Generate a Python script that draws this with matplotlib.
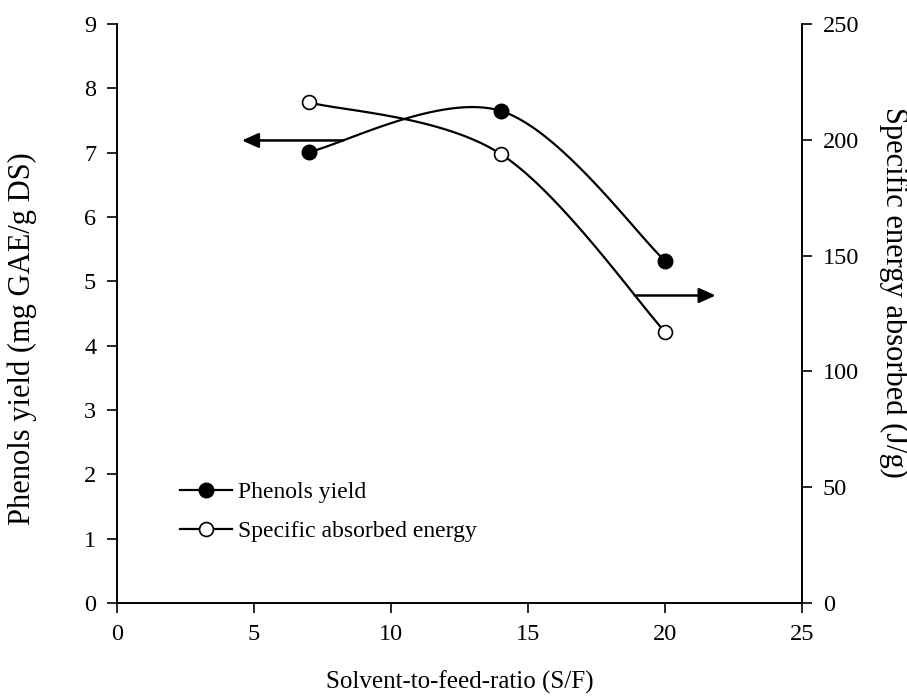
import numpy as np
import matplotlib
matplotlib.use("Agg")
import matplotlib.pyplot as plt
from matplotlib.lines import Line2D

plt.rcParams['font.family'] = ['Liberation Serif', 'DejaVu Serif']

# Data
sf_ratio = [7, 14, 20]
phenols_yield = [7.01, 7.65, 5.32]
specific_energy = [216.2, 193.9, 117.1]

x_ticks = [0, 5, 10, 15, 20, 25]
left_ticks = [0, 1, 2, 3, 4, 5, 6, 7, 8, 9]
right_ticks = [0, 50, 100, 150, 200, 250]

left_arrow = {"start": (8.25, 7.19), "end": (4.56, 7.19)}
right_arrow = {"start": (18.9, 4.78), "end": (21.85, 4.78)}

series_labels = ["Phenols yield", "Specific absorbed energy"]


def excel_smooth(xs, ys, n=60):
    xs = np.asarray(xs, float)
    ys = np.asarray(ys, float)
    pts = np.column_stack([xs, ys])
    out = []
    m = len(pts)
    for i in range(m - 1):
        p0 = pts[i - 1] if i > 0 else pts[i]
        p1 = pts[i]
        p2 = pts[i + 1]
        p3 = pts[i + 2] if i + 2 < m else pts[i + 1]
        c1 = p1 + (p2 - p0) / 6.0
        c2 = p2 - (p3 - p1) / 6.0
        t = np.linspace(0, 1, n)[:, None]
        seg = ((1 - t) ** 3) * p1 + 3 * ((1 - t) ** 2) * t * c1 + 3 * (1 - t) * t ** 2 * c2 + t ** 3 * p2
        out.append(seg if i == 0 else seg[1:])
    arr = np.vstack(out)
    return arr[:, 0], arr[:, 1]


fig = plt.figure(figsize=(9.07, 6.97), dpi=100)
ax = fig.add_axes([117 / 907, 1 - 603 / 697, (802 - 117) / 907, (603 - 24) / 697])
ax2 = ax.twinx()

lw = 1.6
# Phenols yield (left axis)
sx, sy = excel_smooth(sf_ratio, phenols_yield)
ax.plot(sx, sy, color='black', lw=lw, zorder=2)
ax.plot(sf_ratio, phenols_yield, 'o', color='black', ms=10.5, zorder=3)

# Specific energy (right axis)
ex, ey = excel_smooth(sf_ratio, specific_energy)
ax2.plot(ex, ey, color='black', lw=lw, zorder=2)
ax2.plot(sf_ratio, specific_energy, 'o', mfc='white', mec='black', mew=1.2, ms=10, zorder=3)

ax.set_xlim(0, 25)
ax.set_ylim(0, 9)
ax2.set_ylim(0, 250)
ax.set_xticks(x_ticks)
ax.set_yticks(left_ticks)
ax2.set_yticks(right_ticks)

for a in (ax, ax2):
    for s in a.spines.values():
        s.set_linewidth(1.2)
    a.tick_params(direction='out', length=7, width=1.2, labelsize=17.5, pad=8)
ax.spines['top'].set_visible(False)
ax2.spines['top'].set_visible(False)

ax.set_xlabel("Solvent-to-feed-ratio (S/F)", fontsize=18)
ax.xaxis.set_label_coords(0.5, -0.116)
ax.set_ylabel("Phenols yield (mg GAE/g DS)", fontsize=22)
ax.yaxis.set_label_coords(-0.117, 0.456)
ax2.set_ylabel("Specific energy absorbed (J/g)", fontsize=22, rotation=270, va='bottom')
ax2.yaxis.set_label_coords(1.112, 0.536)

# Arrows
arrowprops = dict(arrowstyle='-|>,head_length=1.0,head_width=0.45', color='black', lw=1.8,
                  shrinkA=0, shrinkB=0)
ax.annotate('', xy=left_arrow["end"], xytext=left_arrow["start"], arrowprops=arrowprops)
ax.annotate('', xy=right_arrow["end"], xytext=right_arrow["start"], arrowprops=arrowprops)

handles = [
    Line2D([], [], color='black', lw=lw, marker='o', ms=10.5),
    Line2D([], [], color='black', lw=lw, marker='o', mfc='white', mec='black', mew=1.2, ms=10),
]
leg = ax.legend(handles, series_labels, loc='center left', bbox_to_anchor=(0.092, 0.157),
                frameon=False, fontsize=17, handlelength=2.2, handletextpad=0.25,
                labelspacing=0.75, borderaxespad=0, borderpad=0)

fig.savefig("out.png", dpi=100)
